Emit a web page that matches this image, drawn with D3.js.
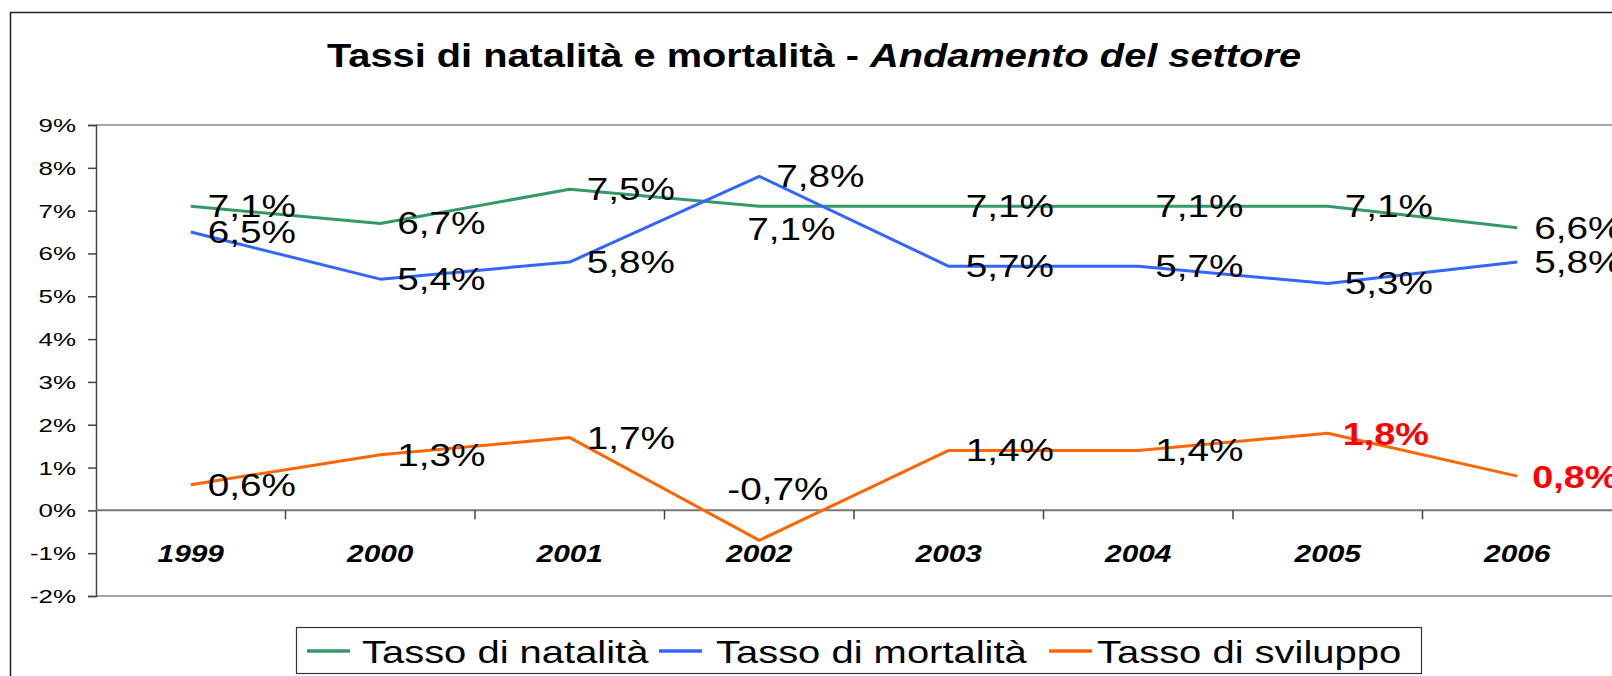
<!DOCTYPE html>
<html>
<head>
<meta charset="utf-8">
<script src="https://cdn.jsdelivr.net/npm/d3@7"></script>
<style>
  html, body { margin: 0; padding: 0; background: #fff; overflow: hidden; }
  svg { display: block; font-family: "Liberation Sans", Arial, sans-serif; }
</style>
</head>
<body>
<svg id="chart" width="1612" height="676"></svg>
<script>
// ---- data ----
const years = ["1999", "2000", "2001", "2002", "2003", "2004", "2005", "2006"];
const natalita = [7.1, 6.7, 7.5, 7.1, 7.1, 7.1, 7.1, 6.6];
const mortalita = [6.5, 5.4, 5.8, 7.8, 5.7, 5.7, 5.3, 5.8];
const sviluppo = [0.6, 1.3, 1.7, -0.7, 1.4, 1.4, 1.8, 0.8];
const yTicks = [-2, -1, 0, 1, 2, 3, 4, 5, 6, 7, 8, 9];
const seriesNames = ["Tasso di natalità", "Tasso di mortalità", "Tasso di sviluppo"];
const titleMain = "Tassi di natalità e mortalità - ";
const titleItalic = "Andamento del settore";

// ---- layout / style ----
const colors = ["#339966", "#3366FF", "#FF6600"];
const highlightLabels = { 2: ["2005", "2006"] };          // red bold labels
const labelPlacement = { "0-2002": "below", "2-2002": "above" };
const stretch = 1.27;

const svg = d3.select("#chart");
const W = 1612, H = 676;
const plot = { left: 96, right: 1612, top: 125, bottom: 596 };

const x = d3.scaleBand().domain(years).range([plot.left, plot.right]).padding(0);
const y = d3.scaleLinear().domain([-2, 9]).range([plot.bottom, plot.top]);
const cx = d => x(d) + x.bandwidth() / 2;

function stext(g, tx, ty, str, opts) {
  const t = g.append("text")
    .attr("transform", `translate(${tx},${ty}) scale(${opts.sx || stretch},1)`)
    .attr("font-size", opts.size)
    .attr("font-weight", opts.weight || "normal")
    .attr("font-style", opts.style || "normal")
    .attr("text-anchor", opts.anchor || "start")
    .attr("fill", opts.fill || "#000");
  if (str !== null) t.text(str);
  return t;
}

// outer border
svg.append("rect").attr("x", 10.5).attr("y", 12.5).attr("width", W).attr("height", H)
  .attr("fill", "none").attr("stroke", "#222").attr("stroke-width", 1.5);

// title
const title = stext(svg, 814, 67, null, { size: 34, weight: "bold", anchor: "middle", sx: 1.17 });
title.append("tspan").text(titleMain);
title.append("tspan").attr("font-style", "italic").text(titleItalic);

// plot frame lines (top and bottom)
svg.append("line").attr("x1", plot.left).attr("x2", plot.right).attr("y1", y(9)).attr("y2", y(9))
  .attr("stroke", "#888").attr("stroke-width", 1.5);
svg.append("line").attr("x1", plot.left).attr("x2", plot.right).attr("y1", y(-2)).attr("y2", y(-2))
  .attr("stroke", "#888").attr("stroke-width", 1.5);

// y axis
const yAxis = d3.axisLeft(y).tickValues(yTicks).tickSize(8).tickFormat(d => d + "%");
const gy = svg.append("g").attr("transform", `translate(${plot.left},0)`).call(yAxis);
gy.select(".domain").attr("stroke", "#444").attr("stroke-width", 1.5);
gy.selectAll(".tick line").attr("stroke", "#444").attr("stroke-width", 1.5);
gy.selectAll(".tick text").remove();
yTicks.forEach(v => {
  stext(svg, 76, y(v) + 7, v + "%", { size: 18.5, anchor: "end", sx: 1.4 });
});

// zero axis with category boundary ticks
svg.append("line").attr("x1", plot.left).attr("x2", plot.right).attr("y1", y(0)).attr("y2", y(0))
  .attr("stroke", "#777").attr("stroke-width", 2);
years.forEach((d, i) => {
  if (i === 0) return;
  svg.append("line").attr("x1", x(d)).attr("x2", x(d)).attr("y1", y(0)).attr("y2", y(0) + 9)
    .attr("stroke", "#444").attr("stroke-width", 1.5);
});

// x labels
years.forEach(d => {
  stext(svg, cx(d), 562, d, { size: 24.5, weight: "bold", style: "italic", anchor: "middle", sx: 1.22 });
});

// lines
const allSeries = [natalita, mortalita, sviluppo];
const line = d3.line().x((v, i) => cx(years[i])).y(v => y(v));
allSeries.forEach((s, k) => {
  svg.append("path").datum(s).attr("d", line)
    .attr("fill", "none").attr("stroke", colors[k]).attr("stroke-width", 3)
    .attr("stroke-linejoin", "round");
});

// labels
const fmt = v => String(v.toFixed(1)).replace(".", ",") + "%";
allSeries.forEach((s, k) => {
  s.forEach((v, i) => {
    const yr = years[i];
    const px = cx(yr), py = y(v);
    const place = labelPlacement[k + "-" + yr] || "right";
    let tx = px + 17, ty = py + 11;
    if (place === "below") { tx = px - 12; ty = py + 34; }
    if (place === "above") { tx = px - 32; ty = py - 40; }
    const hl = highlightLabels[k] && highlightLabels[k].includes(yr);
    if (hl) { tx = px + 15; ty = py + 12; }
    stext(svg, tx, ty, fmt(v), {
      size: hl ? 31 : 30.5, weight: hl ? "bold" : "normal", fill: hl ? "#FF0000" : "#000", sx: hl ? 1.22 : 1.27
    });
  });
});

// legend
const lg = svg.append("g");
lg.append("rect").attr("x", 296.5).attr("y", 627.5).attr("width", 1125).attr("height", 46)
  .attr("fill", "#fff").attr("stroke", "#333").attr("stroke-width", 1.2);
const legendItems = [
  { lx: 307, tx: 362 },
  { lx: 659, tx: 716 },
  { lx: 1049, tx: 1097 }
];
seriesNames.forEach((name, k) => {
  const it = legendItems[k];
  lg.append("line").attr("x1", it.lx).attr("x2", it.lx + 43).attr("y1", 651).attr("y2", 651)
    .attr("stroke", colors[k]).attr("stroke-width", 3.5);
  stext(lg, it.tx, 663, name, { size: 30.5, sx: 1.31 });
});
</script>
</body>
</html>
